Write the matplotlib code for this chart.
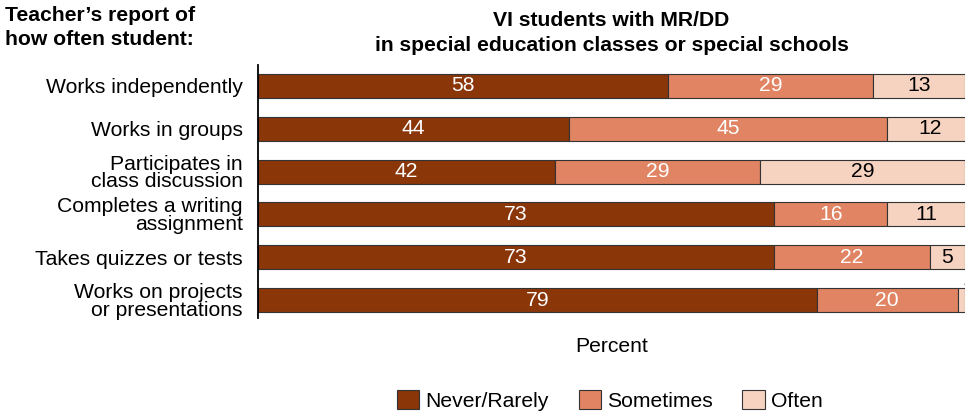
import matplotlib.pyplot as plt
import numpy as np

plt.rcParams['font.family'] = ['Liberation Sans', 'DejaVu Sans']

categories = ["Works independently", "Works in groups", "Participates in\nclass discussion",
              "Completes a writing\nassignment", "Takes quizzes or tests",
              "Works on projects\nor presentations"]
never_rarely = [58, 44, 42, 73, 73, 79]
sometimes = [29, 45, 29, 16, 22, 20]
often = [13, 12, 29, 11, 5, 1]
series_names = ["Never/Rarely", "Sometimes", "Often"]

colors = ["#8A3609", "#E08463", "#F6D3C1"]
text_colors = ["white", "white", "black"]
fs = 15.2

fig = plt.figure(figsize=(9.65, 4.13), dpi=100)
ax = fig.add_axes([0.2674, 0.23, 0.7326, 0.613])

y = np.arange(len(categories))
left = np.zeros(len(categories))
for vals, name, c, tc in zip([never_rarely, sometimes, often], series_names, colors, text_colors):
    vals = np.array(vals, dtype=float)
    ax.barh(y, vals, left=left, height=0.56, color=c, edgecolor="#333333",
            linewidth=0.8, label=name)
    for yi, l, v in zip(y, left, vals):
        if v >= 3:
            ax.text(l + v / 2, yi, f"{v:.0f}", ha="center", va="center",
                    color=tc, fontsize=fs)
        else:
            # too thin: label above the bar, runs off the edge like the original
            ax.text(l + v + 0.4, yi - 0.26, f"{v:.0f}", ha="center", va="bottom",
                    color="black", fontsize=fs, clip_on=False)
    left += vals

ax.set_xlim(0, 100)
ax.set_ylim(5.42, -0.49)
ax.set_yticks(y)
ax.set_yticklabels(categories, fontsize=fs, linespacing=0.9)
ax.tick_params(axis="y", length=0, pad=11)
ax.set_xticks([])
for s in ["top", "right", "bottom"]:
    ax.spines[s].set_visible(False)
ax.spines["left"].set_linewidth(1.3)

ax.set_xlabel("Percent", fontsize=fs, labelpad=14)
ax.set_title("VI students with MR/DD\nin special education classes or special schools",
             fontsize=fs, fontweight="bold", pad=10, linespacing=1.4)
fig.text(0.005, 0.985, "Teacher\u2019s report of\nhow often student:", fontsize=fs,
         fontweight="bold", ha="left", va="top", linespacing=1.3)

fig.legend(loc="lower center", bbox_to_anchor=(0.632, -0.04), ncol=3, frameon=False,
           fontsize=fs, handlelength=1.05, handleheight=1.05, columnspacing=1.4,
           handletextpad=0.3)

fig.savefig("out.png", dpi=100)
